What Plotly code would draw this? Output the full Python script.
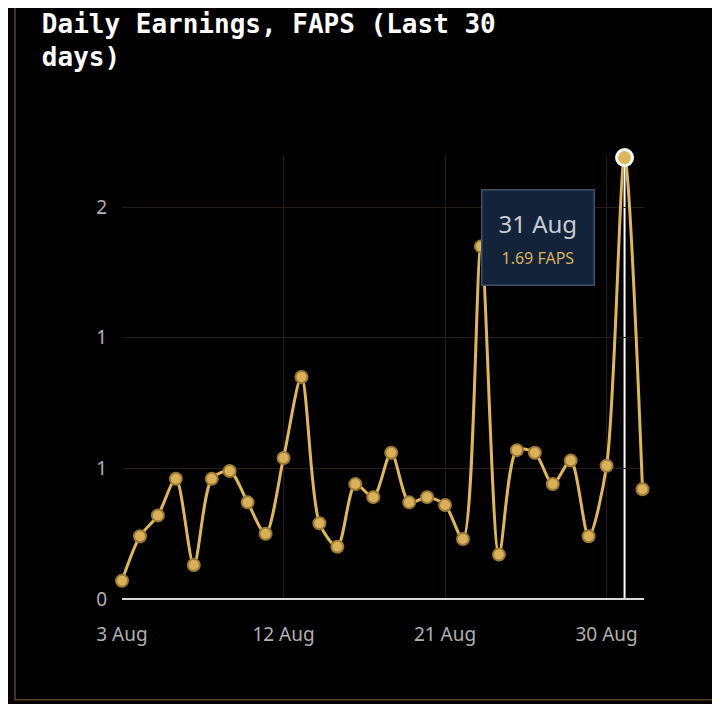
import plotly.graph_objects as go
import pandas as pd

dates = pd.date_range("2024-08-03", "2024-09-01", freq="D")
values = [0.07, 0.24, 0.32, 0.46, 0.13, 0.46, 0.49, 0.37, 0.25, 0.54,
          0.85, 0.29, 0.20, 0.44, 0.39, 0.56, 0.37, 0.39, 0.36, 0.23,
          1.35, 0.17, 0.57, 0.56, 0.44, 0.53, 0.24, 0.51, 1.69, 0.42]
tick_vals = [0, 0.5, 1, 1.5]
tick_text = ["0", "1", "1", "2"]
tick_dates = ["2024-08-03", "2024-08-12", "2024-08-21", "2024-08-30"]
tick_labels = ["3 Aug", "12 Aug", "21 Aug", "30 Aug"]
hover_idx = 28

gold = "#e0b65c"
fig = go.Figure()
fig.add_trace(go.Scatter(x=dates, y=values, mode="lines+markers",
    line=dict(color=gold, width=3, shape="spline", smoothing=0.8),
    marker=dict(size=12, color="#d9b15a", line=dict(color="#9c7a34", width=2)),
    hoverinfo="skip", cliponaxis=False))
fig.add_trace(go.Scatter(x=[dates[hover_idx]], y=[values[hover_idx]], mode="markers",
    marker=dict(size=16, color=gold, line=dict(color="white", width=3)),
    hoverinfo="skip", cliponaxis=False))
fig.add_shape(type="line", x0=dates[hover_idx], x1=dates[hover_idx], y0=0, y1=values[hover_idx],
    line=dict(color="white", width=2), layer="below")
fig.add_shape(type="rect", xref="paper", yref="paper", x0=-0.205, x1=1.307, y0=-0.227, y1=1.338,
    line=dict(color="#5a4020", width=1.5), fillcolor="rgba(0,0,0,0)")
fig.add_annotation(x=dates[0] + pd.Timedelta(hours=23.2 * 24), y=1.385, xanchor="center", yanchor="middle",
    text="31 Aug<br><span style='font-size:16px;color:#d9b15a'>1.69 FAPS</span>",
    showarrow=False, bgcolor="#13233a", bordercolor="#3f5066", borderwidth=1.5, borderpad=16,
    font=dict(family="Noto Sans", size=24, color="#c8ccd4"), align="center")
fig.update_layout(
    width=720, height=704, paper_bgcolor="black", plot_bgcolor="black",
    margin=dict(l=114, r=84, t=147, b=113), showlegend=False,
    title=dict(text="<b>Daily Earnings, FAPS (Last 30<br>days)</b>", x=0.047, xanchor="left",
               y=0.965, yanchor="top",
               font=dict(family="DejaVu Sans Mono", size=26, color="white")),
    xaxis=dict(tickvals=pd.to_datetime(tick_dates), ticktext=tick_labels,
               range=[dates[0], dates[-1] + pd.Timedelta(hours=2)],
               showgrid=True, gridcolor="#2a1a16", zeroline=False,
               showline=False, ticks="", ticklabelstandoff=22,
               tickfont=dict(family="Noto Sans", size=19, color="#b0b0b0")),
    yaxis=dict(tickvals=tick_vals, ticktext=tick_text, range=[0, 1.7],
               showgrid=True, gridcolor="#2a1a16", zeroline=True, zerolinecolor="#d8d8d8",
               zerolinewidth=2, ticks="", ticklabelstandoff=14,
               tickfont=dict(family="Noto Sans", size=19, color="#b0b0b0")),
)
fig.write_html("out.html")
